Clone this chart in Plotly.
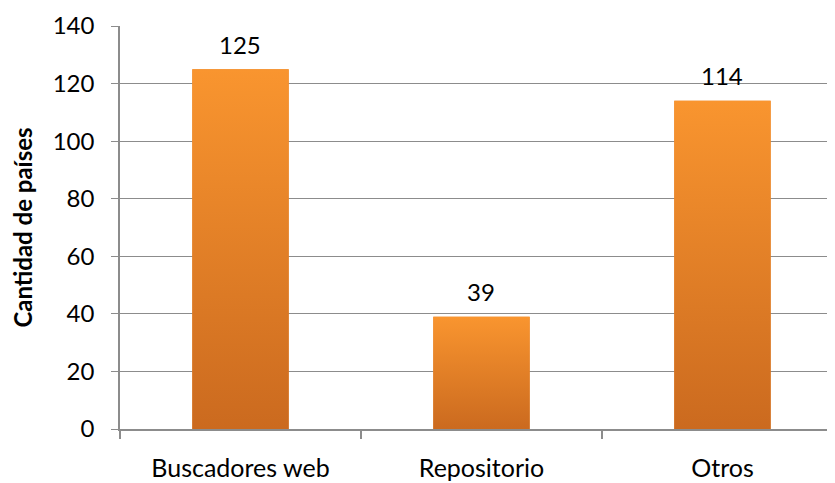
import plotly.graph_objects as go

categories = ["Buscadores web", "Repositorio", "Otros"]
values = [125, 39, 114]
y_ticks = [0, 20, 40, 60, 80, 100, 120, 140]

FONT = "Lato"
GRID = "#8c8c8c"
TOP = "#F9952F"
BOTTOM = "#CB6A1F"
BAR_W = 0.40

xs = list(range(len(categories)))

fig = go.Figure()
fig.add_trace(go.Bar(x=xs, y=values, width=BAR_W, marker=dict(color="#E5822A", line=dict(width=0)),
                     showlegend=False, hoverinfo="skip"))

# gradient overlay for each bar, built from the data
for i, v in zip(xs, values):
    fig.add_trace(go.Scatter(
        x=[i - BAR_W / 2, i + BAR_W / 2, i + BAR_W / 2, i - BAR_W / 2, i - BAR_W / 2],
        y=[0, 0, v, v, 0],
        mode="lines", line=dict(width=0), fill="toself",
        fillgradient=dict(type="vertical", colorscale=[[0, BOTTOM], [1, TOP]]),
        showlegend=False, hoverinfo="skip"))

for i, v in zip(xs, values):
    fig.add_annotation(x=i, y=v, text=str(v), showarrow=False, yshift=25,
                       font=dict(family=FONT, size=24, color="#000000"))

fig.update_layout(
    width=827, height=475,
    margin=dict(l=112, r=0, t=18, b=54),
    paper_bgcolor="white", plot_bgcolor="white",
    font=dict(family=FONT, size=24, color="#000000"),
    bargap=0.6,
)
fig.update_xaxes(
    range=[-0.5, 2.467], tickmode="array", tickvals=xs, ticktext=categories,
    ticks="", showgrid=False, zeroline=False, automargin=False,
    showline=True, linecolor=GRID, linewidth=1.5,
    tickfont=dict(size=25), ticklabelstandoff=16,
    minor=dict(tickmode="linear", tick0=0.5, dtick=1, ticks="outside", ticklen=8,
               tickcolor=GRID, tickwidth=1.5, showgrid=False),
)
fig.update_yaxes(
    range=[0, 140], tickmode="array", tickvals=y_ticks,
    showgrid=True, gridcolor=GRID, gridwidth=1.3,
    ticks="outside", ticklen=7, tickcolor=GRID, tickwidth=1.3,
    showline=True, linecolor=GRID, linewidth=1.5, automargin=False,
    zeroline=False, tickfont=dict(size=24), ticklabelstandoff=12,
    title=dict(text="<b>Cantidad de países</b>", font=dict(size=24), standoff=26),
)
fig.write_html("out.html")
